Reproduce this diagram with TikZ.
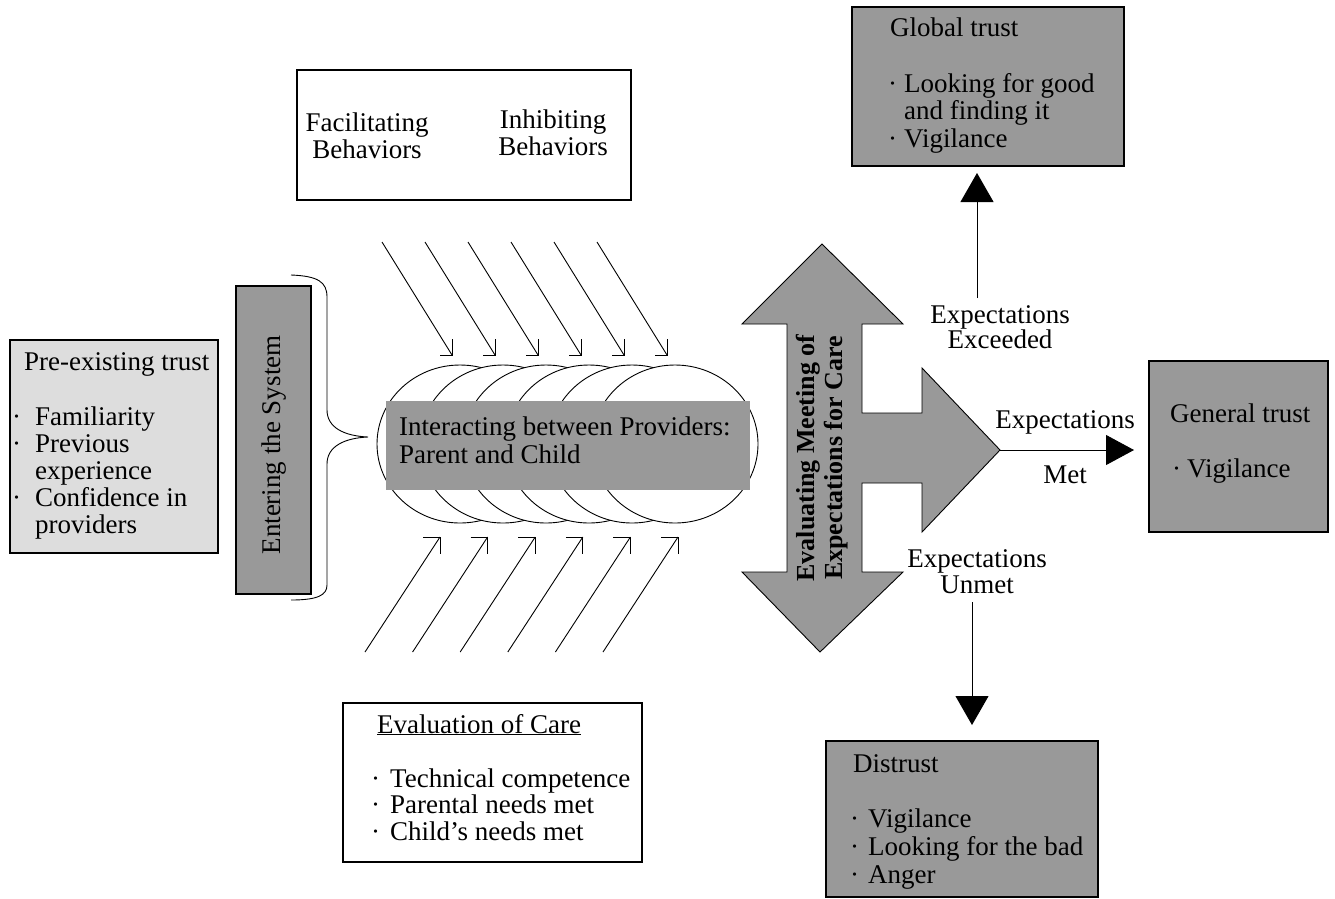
\documentclass[tikz,border=0pt]{standalone}
\usepackage{fontspec}
\setmainfont{Liberation Serif}
\usetikzlibrary{arrows.meta,shapes.geometric}
\definecolor{dgray}{HTML}{999999}
\definecolor{lgray}{HTML}{DDDDDD}
\newcommand{\bul}[1]{\llap{\textperiodcentered\hspace{#1}}}
\tikzset{
  txt/.style={font=\fontsize{27}{27.5}\selectfont, inner sep=0pt, anchor=base west},
  ctxt/.style={font=\fontsize{27}{27.5}\selectfont, inner sep=0pt, anchor=base},
  box/.style={draw, line width=1.2pt, inner sep=0pt},
  ln/.style={line width=0.9pt},
  bigarr/.style={line width=0.9pt, -{Triangle[width=33pt,length=29pt]}},
}
\begin{document}
\begin{tikzpicture}[x=1pt,y=-1pt]
\useasboundingbox (0,0) rectangle (1335,898);

% ---- left boxes
\node[box, fill=lgray, minimum width=208pt, minimum height=213pt] (pre) at (114,446.5) {};
\node[txt] (pre-t) at (24,370) {Pre-existing trust};
\node[txt] (pre-1) at (35,425) {\bul{14pt}Familiarity};
\node[txt] (pre-2) at (35,452) {\bul{14pt}Previous};
\node[txt] (pre-3) at (35,479) {experience};
\node[txt] (pre-4) at (35,506) {\bul{14pt}Confidence in};
\node[txt] (pre-5) at (35,533) {providers};

\node[box, fill=dgray, minimum width=75pt, minimum height=308pt] (ent) at (273.5,440) {};
\node[font=\fontsize{27}{27.5}\selectfont, inner sep=0pt, rotate=90] (ent-t) at (274,445) {Entering the System};

% ---- brace
\coordinate (brtop) at (291,275);
\coordinate (brtip) at (368,437);
\coordinate (brbot) at (291,600);
\draw[ln] (brtop) .. controls (318,276) and (327,282) .. (327,297) -- (327,410)
  .. controls (327,428) and (345,436) .. (brtip)
  .. controls (345,438) and (327,446) .. (327,464) -- (327,585)
  .. controls (327,595) and (318,600) .. (brbot);

% ---- ellipses
\foreach \i in {0,...,5}{
  \node[ellipse, draw, fill=white, line width=0.9pt, minimum width=166pt, minimum height=158pt, inner sep=0pt] (e\i) at ({460+43*\i},444) {};
}
\node[fill=dgray, inner sep=0pt, minimum width=364pt, minimum height=89pt] (inter) at (568,445.5) {};
\node[txt] (inter-1) at (399,435) {Interacting between Providers:};
\node[txt] (inter-2) at (399,463) {Parent and Child};

% ---- behaviours box
\node[box, minimum width=334pt, minimum height=130pt] (beh) at (464,135) {};
\node[ctxt] (fac-1) at (367,131) {Facilitating};
\node[ctxt] (fac-2) at (367,158) {Behaviors};
\node[ctxt] (inh-1) at (553,128) {Inhibiting};
\node[ctxt] (inh-2) at (553,155) {Behaviors};

% ---- top diagonal arrows
\foreach \i in {0,...,5}{
  \coordinate (tt\i) at ({452+43*\i},355);
  \coordinate (ts\i) at ({452+43*\i-70},242);
  \draw[ln] (ts\i) -- (tt\i);
  \draw[ln] ([xshift=-12pt]tt\i) -- (tt\i) -- ([yshift=16pt]tt\i);
}
% ---- bottom diagonal arrows
\foreach \i in {0,...,5}{
  \coordinate (bt\i) at ({440+47.6*\i},537);
  \coordinate (bs\i) at ({440+47.6*\i-75},652);
  \draw[ln] (bs\i) -- (bt\i);
  \draw[ln] ([xshift=-17pt]bt\i) -- (bt\i) -- ([yshift=-17pt]bt\i);
}

% ---- evaluation of care
\node[box, minimum width=299pt, minimum height=159pt] (evc) at (492.5,782.5) {};
\node[txt] (evc-t) at (377,733) {\underline{Evaluation of Care}};
\node[txt] (evc-1) at (390,787) {\bul{10pt}Technical competence};
\node[txt] (evc-2) at (390,813) {\bul{10pt}Parental needs met};
\node[txt] (evc-3) at (390,840) {\bul{10pt}Child's needs met};

% ---- big arrow
\draw[fill=dgray, line width=0.9pt] (822,244) -- (903,324) -- (862,324) -- (862,413) -- (922,413)
  -- (922,368) -- (1000,450) -- (922,532) -- (922,483) -- (862,483) -- (862,572)
  -- (903,572) -- (820,652) -- (742,572) -- (787,572) -- (787,324) -- (742,324) -- cycle;
\coordinate (bigtip) at (1000,450);
\node[font=\bfseries\fontsize{26}{27.5}\selectfont, inner sep=0pt, rotate=90, align=center] (evm) at (822,458) {Evaluating Meeting of\\Expectations for Care};

% ---- global trust
\node[box, fill=dgray, minimum width=272pt, minimum height=159pt] (glob) at (988,86.5) {};
\node[txt] (glob-t) at (890,36) {Global trust};
\node[txt] (glob-1) at (904,92) {\bul{7pt}Looking for good};
\node[txt] (glob-2) at (904,119) {and finding it};
\node[txt] (glob-3) at (904,147) {\bul{7pt}Vigilance};
\coordinate (exs) at (977,298);
\coordinate (exe) at (977,173);
\draw[bigarr] (exs) -- (exe);
\node[ctxt] (exc-1) at (1000,323) {Expectations};
\node[ctxt] (exc-2) at (1000,348) {Exceeded};

% ---- general trust
\node[box, fill=dgray, minimum width=179pt, minimum height=171pt] (gen) at (1238.5,446.5) {};
\node[txt] (gen-t) at (1170,422) {General trust};
\node[txt] (gen-1) at (1187,477) {\bul{6pt}Vigilance};
\coordinate (mete) at (1134,450);
\draw[line width=0.9pt, -{Triangle[width=30pt,length=28pt]}] (bigtip) -- (mete);
\node[ctxt] (met-1) at (1065,428) {Expectations};
\node[ctxt] (met-2) at (1065,483) {Met};

% ---- distrust
\node[ctxt] (un-1) at (977,567) {Expectations};
\node[ctxt] (un-2) at (977,593) {Unmet};
\coordinate (uns) at (972,602);
\coordinate (une) at (972,725);
\draw[bigarr] (uns) -- (une);
\node[box, fill=dgray, minimum width=272pt, minimum height=156pt] (dis) at (962,819) {};
\node[txt] (dis-t) at (853,772) {Distrust};
\node[txt] (dis-1) at (868,827) {\bul{9pt}Vigilance};
\node[txt] (dis-2) at (868,855) {\bul{9pt}Looking for the bad};
\node[txt] (dis-3) at (868,883) {\bul{9pt}Anger};
\end{tikzpicture}
\end{document}
